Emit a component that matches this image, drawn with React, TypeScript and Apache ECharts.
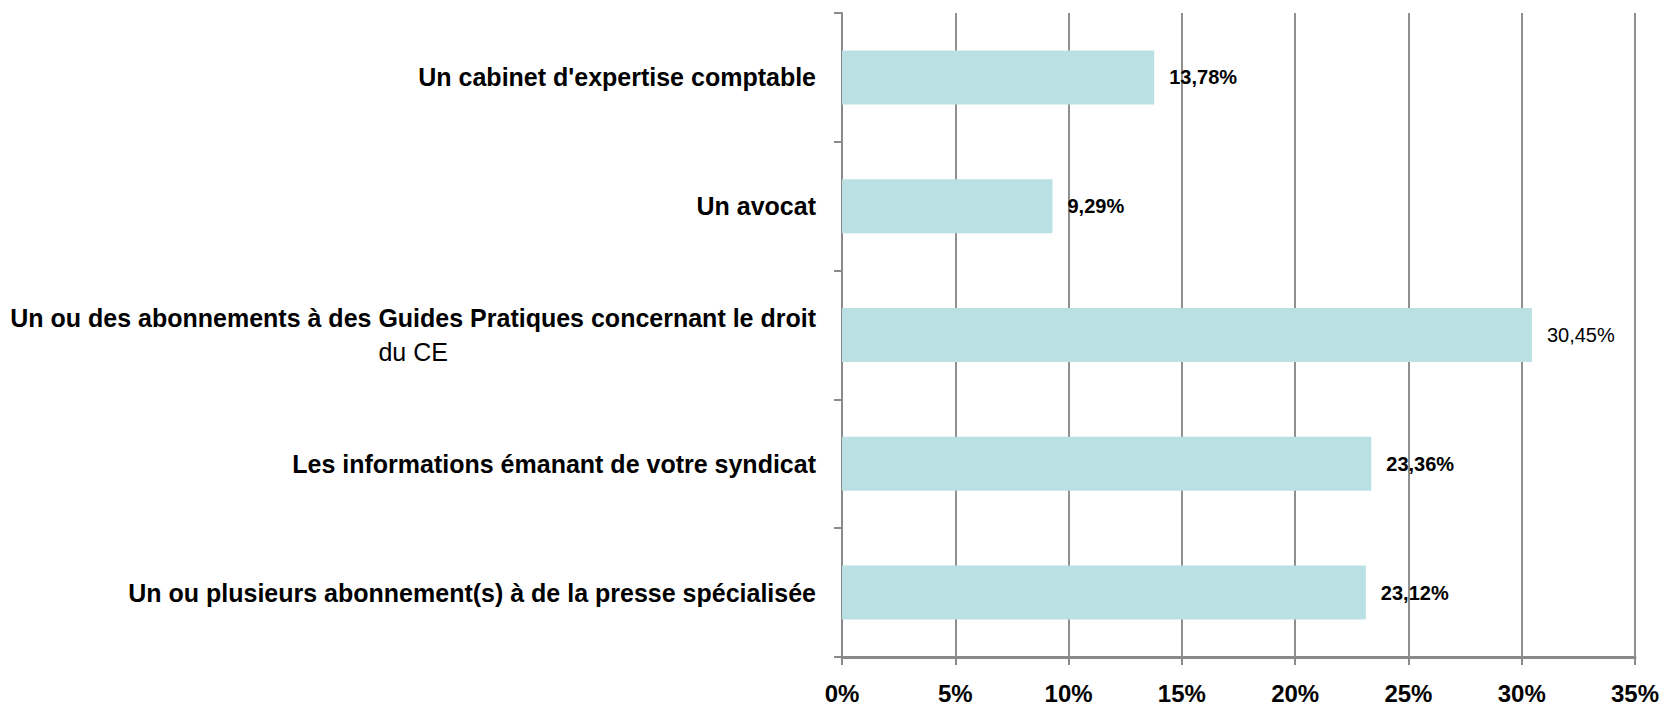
import React, { useEffect, useRef } from "react";
import * as echarts from "echarts";

const categories = [
  "Un cabinet d'expertise comptable",
  "Un avocat",
  "Un ou des abonnements à des Guides Pratiques concernant le droit\ndu CE",
  "Les informations émanant de votre syndicat",
  "Un ou plusieurs abonnement(s) à de la presse spécialisée",
];
const values = [13.78, 9.29, 30.45, 23.36, 23.12];
const boldLabel = [true, true, false, true, true];
const tickLabels = ["0%", "5%", "10%", "15%", "20%", "25%", "30%", "35%"];

const FONT = "'Liberation Sans', Arial, sans-serif";

export default function App() {
  const ref = useRef<HTMLDivElement>(null);
  useEffect(() => {
    if (!ref.current) return;
    const chart = echarts.init(ref.current, null, { renderer: "svg" });
    chart.setOption({
      animation: false,
      backgroundColor: "#ffffff",
      grid: { left: 842, right: 33, top: 13, bottom: 53, containLabel: false },
      xAxis: {
        type: "value",
        position: "bottom",
        min: 0,
        max: 35,
        interval: 5,
        axisLine: { show: true, lineStyle: { color: "#8a8a8a", width: 3 } },
        axisTick: { show: true, length: 8, lineStyle: { color: "#8a8a8a", width: 2 } },
        splitLine: { show: true, lineStyle: { color: "#8f8f8f", width: 2 } },
        axisLabel: {
          margin: 24,
          fontFamily: FONT,
          fontSize: 24,
          fontWeight: "bold",
          color: "#000",
          formatter: (v: number) => tickLabels[Math.round(v / 5)] ?? "",
        },
      },
      yAxis: {
        type: "category",
        inverse: true,
        data: categories,
        axisLine: { show: true, lineStyle: { color: "#8a8a8a", width: 2 } },
        axisTick: { show: true, length: 8, lineStyle: { color: "#8a8a8a", width: 2 } },
        splitLine: { show: false },
        axisLabel: {
          margin: 26,
          color: "#000",
          fontFamily: FONT,
          fontSize: 25,
          fontWeight: "bold",
          formatter: (v: string) => {
            const parts = v.split("\n");
            if (parts.length > 1) {
              return "{b|" + parts[0] + "}\n{n|" + parts[1] + "}";
            }
            return "{b|" + v + "}";
          },
          rich: {
            b: { fontFamily: FONT, fontSize: 25, fontWeight: "bold", color: "#000", lineHeight: 34 },
            n: { fontFamily: FONT, fontSize: 25, fontWeight: "normal", color: "#000", lineHeight: 34, align: "center" },
          },
        },
      },
      series: [
        {
          type: "bar",
          barWidth: 54,
          itemStyle: { color: "#bbe0e3" },
          data: values.map((v, i) => ({
            value: v,
            label: {
              show: true,
              position: "right",
              distance: 15,
              color: "#000",
              fontFamily: FONT,
              fontSize: 20,
              fontWeight: boldLabel[i] ? "bold" : "normal",
              formatter: (p: any) => p.value.toFixed(2).replace(".", ",") + "%",
            },
          })),
        },
      ],
    });
    return () => chart.dispose();
  }, []);
  return (
    <div
      ref={ref}
      style={{ position: "fixed", left: 0, top: 0, width: 1668, height: 710 }}
    />
  );
}
